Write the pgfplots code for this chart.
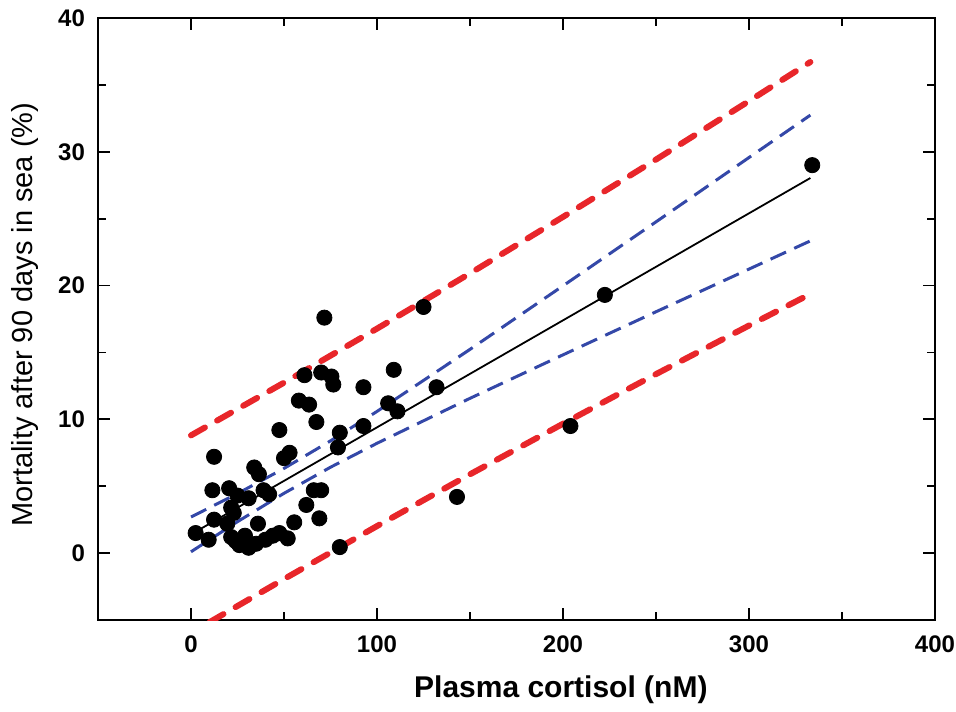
\documentclass[border=0pt]{standalone}
\usepackage{fontspec}
\setmainfont{Liberation Sans}
\usepackage{pgfplots}
\pgfplotsset{compat=1.18}
\definecolor{predred}{RGB}{232,38,42}
\definecolor{confblue}{RGB}{52,72,168}

\begin{document}
\begin{tikzpicture}
\begin{axis}[
  scale only axis,
  width=418.5pt, height=301pt,
  xmin=-50, xmax=400,
  ymin=-5, ymax=40,
  xtick={0,100,200,300,400},
  ytick={0,10,20,30,40},
  minor x tick num=1, minor y tick num=1,
  tick align=inside,
  major tick length=6pt, minor tick length=4pt,
  axis line style={line width=0.9pt},
  every tick/.style={black, line width=0.9pt},
  ticklabel style={font=\fontsize{12}{14}\selectfont\bfseries},
  /pgf/number format/assume math mode=true,
  xticklabel style={yshift=-4.5pt},
  yticklabel style={xshift=-3pt},
  xlabel={Plasma cortisol (nM)},
  xlabel style={font=\fontsize{15}{17}\selectfont\bfseries,
    at={(axis description cs:0.553,0)}, anchor=center, yshift=-35pt},
  ylabel={Mortality after 90 days in sea (\%)},
  ylabel style={font=\fontsize{14.5}{17}\selectfont,
    at={(axis description cs:-0.0872,0.507)}, anchor=center},
]
% observations
\addplot[only marks, mark=*, mark size=3.8pt, black] coordinates {
  (2.5,1.5)(9.5,1.0)(12.4,7.2)(11.5,4.7)(20.5,4.85)(12.4,2.5)(19.5,2.2)
  (21.6,3.4)(23,3.0)(25,4.3)(31,4.1)(34,6.4)(36.5,5.9)(39,4.7)(42,4.4)
  (36,2.2)(21.6,1.2)(24,0.9)(26,0.6)(29,1.3)(31,0.4)(35,0.7)(40,1.0)
  (44,1.3)(47.5,1.5)(52,1.1)(55.5,2.3)(47.5,9.2)(50,7.1)(53,7.5)
  (58,11.4)(63.5,11.1)(61,13.3)(70,13.5)(75.5,13.2)(76.5,12.6)(71.7,17.6)
  (67.4,9.8)(62,3.6)(66,4.7)(70,4.7)(69,2.6)(80,0.45)(79,7.9)(80,9.0)
  (92.7,9.5)(92.7,12.4)(109,13.7)(106,11.2)(111,10.6)(125,18.4)(132,12.4)
  (143,4.2)(204,9.5)(222.5,19.3)(334,29.0)
};
% prediction band
\addplot[predred, line width=3pt, line cap=round, dash pattern=on 8pt off 7pt]
  coordinates {(0,8.80)(50,12.74)(100,16.78)(150,20.91)(200,25.13)(250,29.42)(300,33.79)(333,36.71)};
\addplot[predred, line width=3pt, line cap=round, dash pattern=on 8pt off 7pt]
  coordinates {(10,-5.16)(50,-1.94)(100,2.02)(150,5.89)(200,9.67)(250,13.38)(300,17.01)(333,19.37)};
% confidence band
\addplot[confblue, line width=1.5pt, dash pattern=on 8.5pt off 4.5pt]
  coordinates {(0,2.70)(25,4.45)(50,6.33)(75,8.39)(100,10.59)(150,15.23)(200,19.98)(250,24.76)(300,29.57)(333,32.74)};
\addplot[confblue, line width=1.5pt, dash pattern=on 8.5pt off 4.5pt]
  coordinates {(0,0.10)(25,2.35)(50,4.47)(75,6.42)(100,8.21)(150,11.57)(200,14.82)(250,18.04)(300,21.23)(333,23.34)};
% regression line
\addplot[black, line width=0.9pt] coordinates {(2,1.56)(333,28.04)};
\end{axis}
\pgfresetboundingbox
\path ([xshift=-49pt,yshift=-45.5pt]current axis.south west)
  rectangle ([xshift=10.5pt,yshift=9pt]current axis.north east);
\end{tikzpicture}
\end{document}
